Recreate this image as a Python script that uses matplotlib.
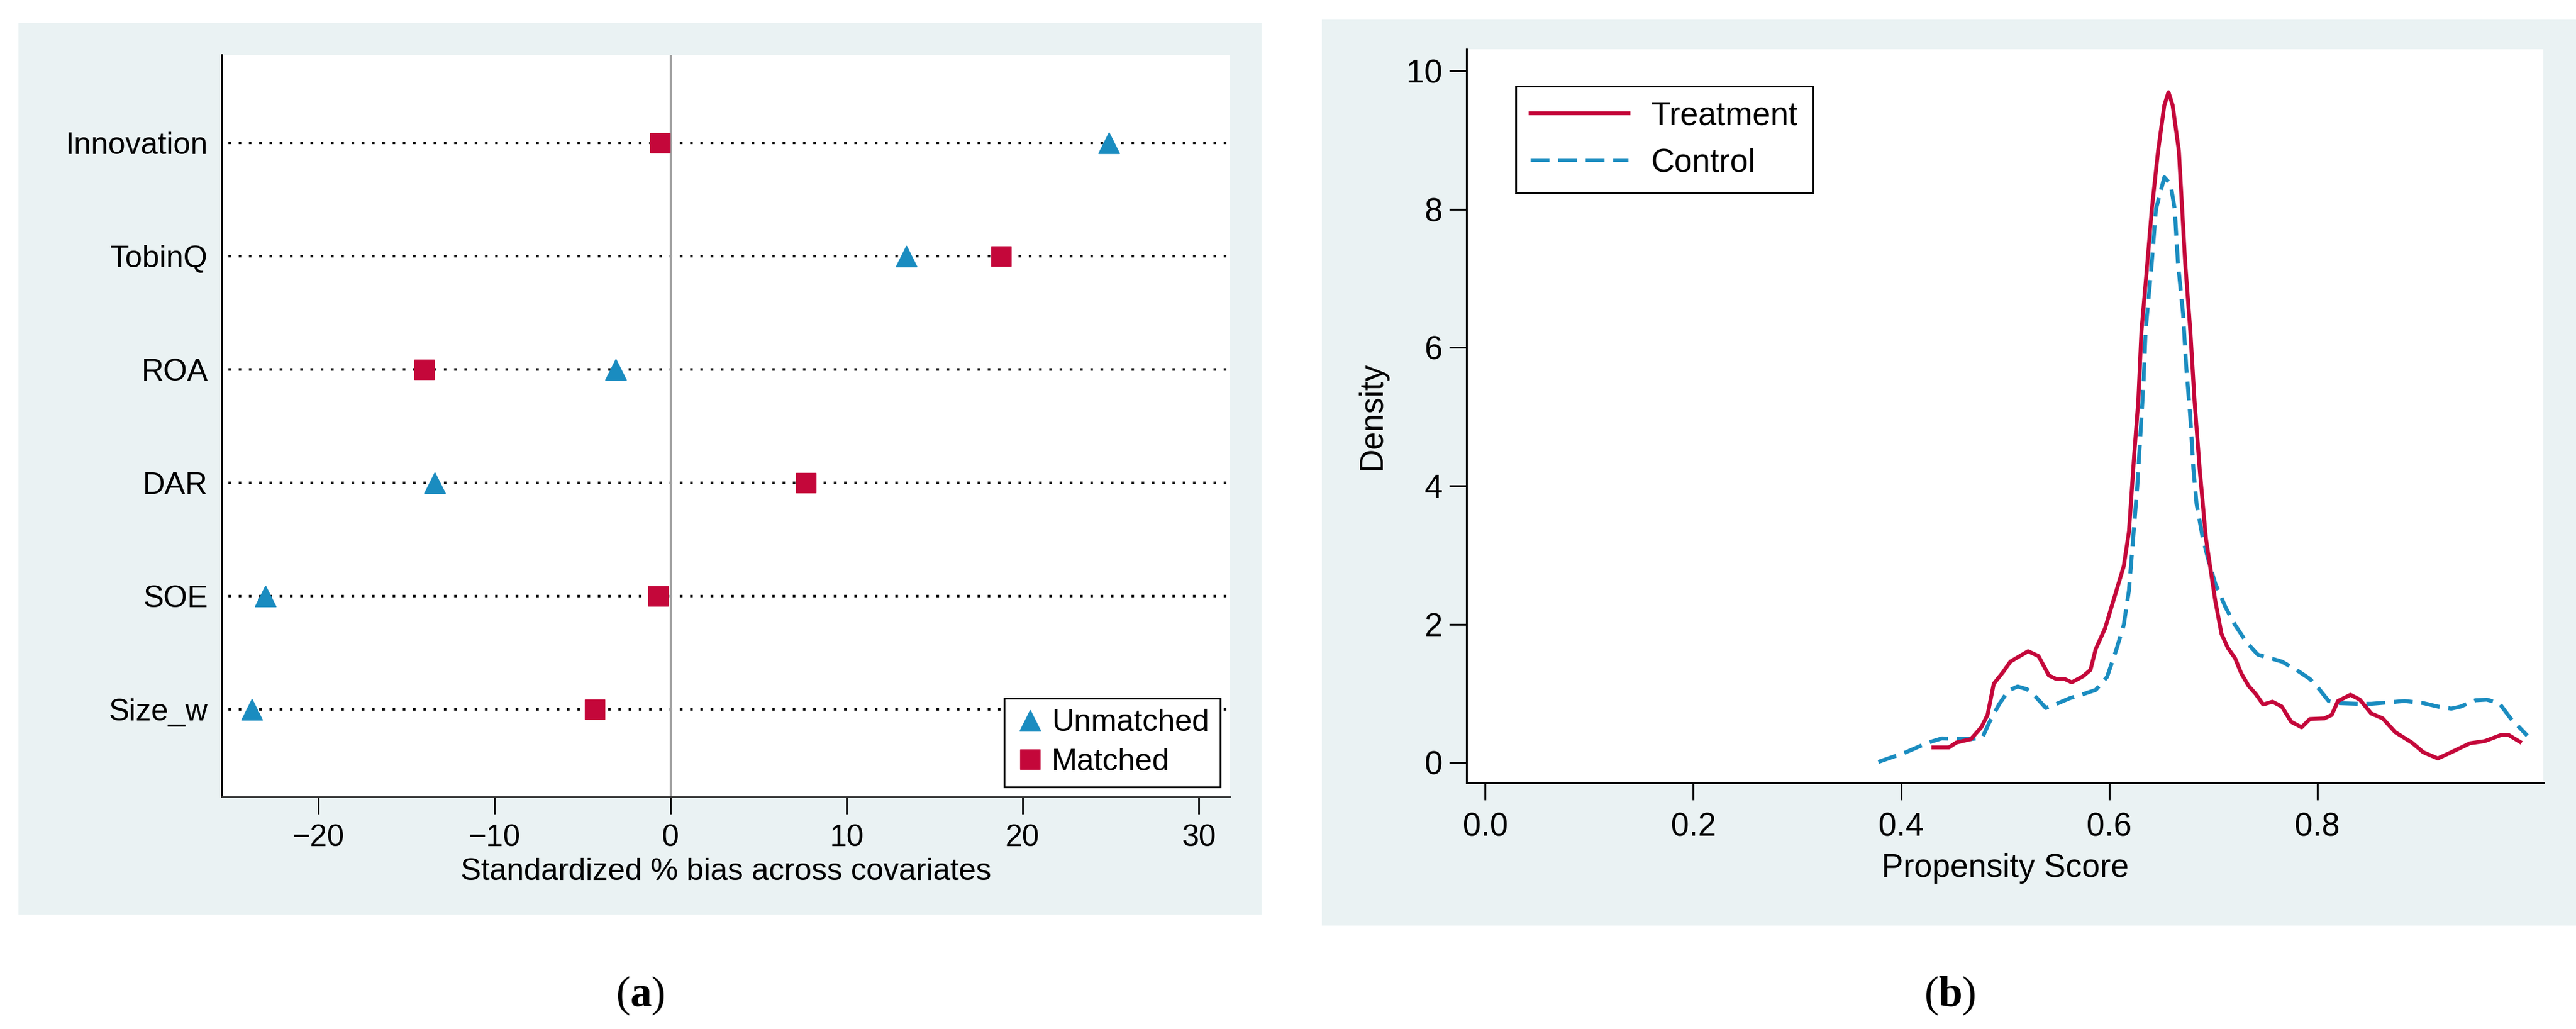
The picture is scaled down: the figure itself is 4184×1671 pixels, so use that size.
import numpy as np
import matplotlib.pyplot as plt
from matplotlib.patches import Rectangle

plt.rcParams['mathtext.fontset'] = 'custom'
plt.rcParams['mathtext.rm'] = 'Liberation Serif'
plt.rcParams['mathtext.bf'] = 'Liberation Serif:bold'

# ---- data (a): standardized % bias ----
covariates = ['Innovation', 'TobinQ', 'ROA', 'DAR', 'SOE', 'Size_w']
unmatched = [24.9, 13.4, -3.1, -13.4, -23.0, -23.8]
matched = [-0.6, 18.8, -14.0, 7.7, -0.7, -4.3]

# ---- data (b): kernel density of propensity score ----
treat_x = [0.431, 0.446, 0.453, 0.467, 0.477, 0.483, 0.489, 0.498, 0.505, 0.514,
           0.522, 0.532, 0.542, 0.549, 0.557, 0.564, 0.575, 0.582, 0.587, 0.596,
           0.603, 0.608, 0.614, 0.619, 0.624, 0.628, 0.631, 0.636, 0.641, 0.647,
           0.653, 0.657, 0.661, 0.667, 0.673, 0.678, 0.682, 0.687, 0.693, 0.698,
           0.702, 0.708, 0.714, 0.721, 0.727, 0.734, 0.741, 0.748, 0.757, 0.766,
           0.775, 0.785, 0.793, 0.807, 0.814, 0.820, 0.832, 0.841, 0.852, 0.863,
           0.875, 0.891, 0.902, 0.916, 0.929, 0.947, 0.961, 0.977, 0.984, 0.995]
treat_y = [0.22, 0.22, 0.29, 0.34, 0.51, 0.69, 1.14, 1.31, 1.46, 1.54,
           1.61, 1.54, 1.26, 1.21, 1.21, 1.16, 1.25, 1.34, 1.64, 1.94,
           2.29, 2.54, 2.84, 3.34, 4.44, 5.24, 6.24, 7.10, 8.00, 8.84,
           9.50, 9.69, 9.50, 8.84, 7.24, 6.24, 5.24, 4.24, 3.24, 2.74,
           2.34, 1.86, 1.66, 1.51, 1.29, 1.11, 0.99, 0.84, 0.88, 0.81,
           0.59, 0.51, 0.63, 0.64, 0.69, 0.89, 0.98, 0.91, 0.71, 0.64,
           0.44, 0.29, 0.15, 0.06, 0.15, 0.28, 0.31, 0.40, 0.40, 0.30]

ctrl_x = [0.378, 0.403, 0.426, 0.439, 0.467, 0.478, 0.485, 0.494, 0.503, 0.512,
          0.521, 0.530, 0.539, 0.548, 0.562, 0.575, 0.587, 0.598, 0.607, 0.614,
          0.619, 0.623, 0.627, 0.630, 0.633, 0.635, 0.638, 0.641, 0.645, 0.653,
          0.659, 0.663, 0.666, 0.671, 0.674, 0.678, 0.681, 0.684, 0.690, 0.696,
          0.702, 0.712, 0.721, 0.732, 0.743, 0.757, 0.766, 0.780, 0.793, 0.802,
          0.811, 0.820, 0.839, 0.852, 0.884, 0.902, 0.916, 0.929, 0.938, 0.952,
          0.963, 0.975, 0.986, 1.002]
ctrl_y = [0.01, 0.14, 0.29, 0.35, 0.34, 0.36, 0.59, 0.84, 1.04, 1.10,
          1.06, 0.94, 0.79, 0.84, 0.93, 0.99, 1.05, 1.24, 1.64, 1.99,
          2.49, 3.24, 3.99, 4.74, 5.49, 6.24, 6.74, 7.24, 8.00, 8.46,
          8.36, 8.00, 7.24, 6.49, 5.74, 4.99, 4.24, 3.74, 3.24, 2.89,
          2.59, 2.24, 1.99, 1.74, 1.56, 1.50, 1.46, 1.34, 1.21, 1.06,
          0.89, 0.86, 0.85, 0.85, 0.89, 0.86, 0.81, 0.78, 0.81, 0.90,
          0.91, 0.86, 0.64, 0.39]

RED = '#C4073A'
BLUE = '#1A8CC0'
BG = '#EAF2F3'

W, H = 4184, 1671
fig = plt.figure(figsize=(W / 100, H / 100), dpi=100)
fig.patch.set_facecolor('white')

# panel backgrounds
fig.patches.append(Rectangle((30 / W, 1 - 1485 / H), 2019 / W, 1448 / H,
                             transform=fig.transFigure, facecolor=BG,
                             edgecolor='none', zorder=-5))
fig.patches.append(Rectangle((2147 / W, 1 - 1503 / H), 2037 / W, 1471 / H,
                             transform=fig.transFigure, facecolor=BG,
                             edgecolor='none', zorder=-5))

# ---------------- (a) ----------------
sans = ['Liberation Sans', 'DejaVu Sans']
ax1 = fig.add_axes([360 / W, 1 - 1294 / H, (1998 - 360) / W, (1294 - 89) / H])
ax1.set_zorder(2)
ax1.set_facecolor('white')
ypos = np.arange(len(covariates), 0, -1)
for y in ypos:
    ax1.axhline(y, xmin=0.007, color='#111111', lw=3.0, ls=(0, (1, 3.0)), zorder=1)
ax1.axvline(0, color='#A0A0A0', lw=2.4, zorder=1)
ax1.plot(unmatched, ypos, ls='none', marker='^', ms=24, color=BLUE,
         label='Unmatched', zorder=3)
ax1.plot(matched, ypos, ls='none', marker='s', ms=23, color=RED,
         label='Matched', zorder=3)
ax1.set_xlim(-25.5, 31.8)
ax1.set_ylim(0.23, 6.78)
ax1.set_yticks(ypos)
ax1.set_yticklabels(covariates, family=sans, fontsize=36)
ax1.set_xticks([-20, -10, 0, 10, 20, 30])
ax1.tick_params(axis='y', length=0, pad=16)
ax1.tick_params(axis='x', length=20, width=2, pad=12, labelsize=36)
for lab in ax1.get_xticklabels():
    lab.set_family(sans)
ax1.set_xlabel('Standardized % bias across covariates', family=sans,
               fontsize=36, labelpad=6)
for s in ['top', 'right']:
    ax1.spines[s].set_visible(False)
ax1.spines['left'].set_linewidth(2)
ax1.spines['bottom'].set_linewidth(2)
ax1.spines['bottom'].set_color('#333333')
leg1 = ax1.legend(loc='lower right', bbox_to_anchor=(0.99, 0.013), frameon=True,
                  fancybox=False, edgecolor='black', framealpha=1,
                  prop={'family': sans, 'size': 36}, handletextpad=0.2,
                  borderpad=0.35, labelspacing=0.35, handlelength=1.0,
                  borderaxespad=0)
leg1.get_frame().set_linewidth(2)

# ---------------- (b) ----------------
narrow = ['Liberation Sans Narrow', 'Liberation Sans', 'DejaVu Sans']
ax2 = fig.add_axes([2382 / W, 1 - 1271 / H, (4131 - 2382) / W, (1271 - 80) / H])
ax2.set_zorder(2)
ax2.set_facecolor('white')
ax2.plot(treat_x, treat_y, color=RED, lw=4.6, label='Treatment', zorder=3)
ax2.plot(ctrl_x, ctrl_y, color=BLUE, lw=4.6, ls=(0, (4.8, 2.2)), label='Control', zorder=2)
ax2.set_xlim(-0.018, 1.0175)
ax2.set_ylim(-0.29, 10.31)
ax2.set_xticks([0.0, 0.2, 0.4, 0.6, 0.8])
ax2.set_xticklabels(['0.0', '0.2', '0.4', '0.6', '0.8'])
ax2.set_yticks([0, 2, 4, 6, 8, 10])
ax2.tick_params(axis='both', length=20, width=2.2, labelsize=38)
ax2.tick_params(axis='x', pad=14)
ax2.tick_params(axis='y', pad=8)
for lab in ax2.get_xticklabels() + ax2.get_yticklabels():
    lab.set_family(narrow)
ax2.set_xlabel('Propensity Score', family=narrow, fontsize=38, labelpad=12)
ax2.set_ylabel('Density', family=narrow, fontsize=38, labelpad=22)
for s in ['top', 'right']:
    ax2.spines[s].set_visible(False)
ax2.spines['left'].set_linewidth(2.2)
ax2.spines['bottom'].set_linewidth(2.2)
leg2 = ax2.legend(loc='upper left', bbox_to_anchor=(0.046, 0.95), frameon=True,
                  fancybox=False, edgecolor='black', framealpha=1,
                  prop={'family': narrow, 'size': 38}, handlelength=3.0,
                  handletextpad=0.7, borderpad=0.45, labelspacing=0.5,
                  borderaxespad=0)
leg2.get_frame().set_linewidth(2.2)

# panel captions
fig.text(1040 / W, 1 - 1617 / H, r'($\mathbf{a}$)', ha='center', va='center',
         fontsize=50, family='Liberation Serif')
fig.text(3167 / W, 1 - 1617 / H, r'($\mathbf{b}$)', ha='center', va='center',
         fontsize=50, family='Liberation Serif')

fig.savefig('out.png', dpi=100)
